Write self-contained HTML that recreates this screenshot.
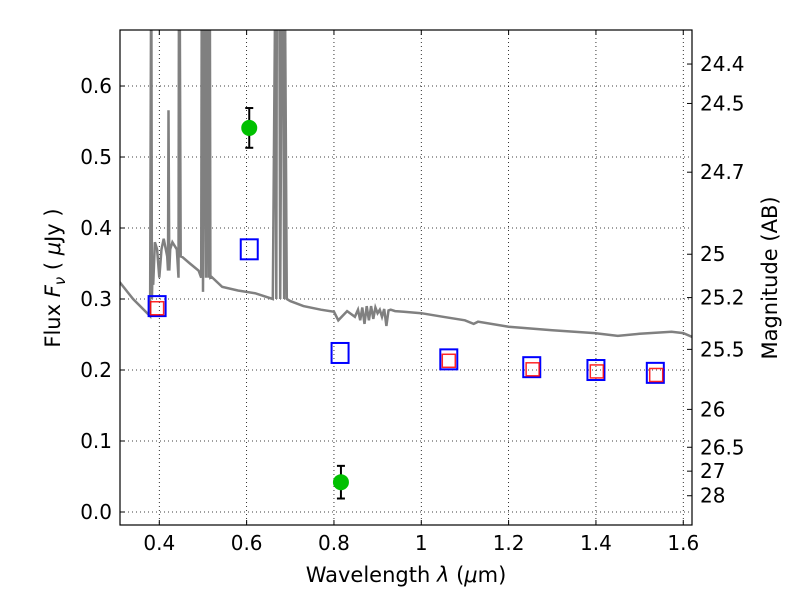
<!DOCTYPE html>
<html><head><meta charset="utf-8">
<style>
body{margin:0;background:#fff;}
svg text{font-family:"DejaVu Sans","Liberation Sans",sans-serif;font-size:20px;fill:#000;}
</style></head>
<body>
<svg id="chart" width="800" height="600" xmlns="http://www.w3.org/2000/svg">
<rect width="800" height="600" fill="#fff"/>
<g id="grid"></g>
<g id="marks"></g>
<rect x="120" y="30" width="572" height="495" fill="none" stroke="#000" stroke-width="1.2"/>
<g id="axes"></g>
<text x="406" y="582" text-anchor="middle" style="font-size:21px">Wavelength  <tspan font-style="italic">λ</tspan> (<tspan font-style="italic">μ</tspan>m)</text>
<text transform="translate(60,278) rotate(-90)" text-anchor="middle" style="font-size:21px">Flux  <tspan font-style="italic">F<tspan font-size="15" dy="5">ν</tspan></tspan><tspan dy="-5">  ( </tspan><tspan font-style="italic">μ</tspan>Jy )</text>
<text transform="translate(777,278) rotate(-90)" text-anchor="middle" style="font-size:21px">Magnitude (AB)</text>
</svg>
<script>
const xTicks=[0.4,0.6,0.8,1.0,1.2,1.4,1.6];
const xTickLabels=["0.4","0.6","0.8","1","1.2","1.4","1.6"];
const yTicks=[0.0,0.1,0.2,0.3,0.4,0.5,0.6];
const yTickLabels=["0.0","0.1","0.2","0.3","0.4","0.5","0.6"];
const magTicks=[24.4,24.5,24.7,25,25.2,25.5,26,26.5,27,28];
const specLam=[0.30,0.34,0.379,0.381,0.382,0.383,0.385,0.386,0.39,0.395,0.40,0.405,0.41,0.418,0.420,0.421,0.423,0.425,0.43,0.44,0.444,0.445,0.447,0.449,0.453,0.47,0.49,0.496,0.497,0.499,0.500,0.503,0.505,0.507,0.509,0.511,0.513,0.516,0.517,0.52,0.544,0.58,0.62,0.66,0.665,0.666,0.668,0.669,0.675,0.677,0.680,0.684,0.686,0.688,0.692,0.70,0.73,0.77,0.80,0.81,0.83,0.848,0.855,0.86,0.865,0.87,0.875,0.88,0.885,0.89,0.895,0.90,0.905,0.91,0.915,0.92,0.925,0.93,0.94,0.96,1.0,1.05,1.10,1.12,1.13,1.2,1.3,1.397,1.45,1.5,1.573,1.6,1.623];
const specFlux=[0.331,0.300,0.276,0.70,0.70,0.30,0.35,0.32,0.38,0.37,0.33,0.37,0.385,0.36,0.34,0.566,0.34,0.37,0.38,0.37,0.33,0.70,0.70,0.36,0.359,0.35,0.34,0.33,0.70,0.70,0.31,0.70,0.70,0.33,0.70,0.70,0.33,0.70,0.33,0.331,0.317,0.312,0.308,0.30,0.70,0.70,0.30,0.70,0.70,0.30,0.70,0.70,0.30,0.70,0.30,0.297,0.29,0.285,0.282,0.27,0.283,0.275,0.285,0.27,0.288,0.265,0.29,0.27,0.29,0.272,0.288,0.28,0.285,0.275,0.286,0.262,0.284,0.285,0.283,0.282,0.280,0.275,0.27,0.265,0.268,0.261,0.256,0.252,0.248,0.251,0.254,0.252,0.246];
const photLam=[0.606,0.816];
const photFlux=[0.541,0.042];
const photErr=[0.028,0.023];
const modelLam=[0.395,0.606,0.814,1.063,1.253,1.40,1.536];
const modelFlux=[0.290,0.370,0.224,0.215,0.204,0.200,0.196];
const fitLam=[0.395,1.063,1.255,1.402,1.538];
const fitFlux=[0.287,0.213,0.201,0.198,0.193];

const X0=120,X1=692,Y0=30,Y1=525,xmin=0.31,xmax=1.62,ymin=-0.0183,ymax=0.6789;
const sx=v=>X0+(v-xmin)/(xmax-xmin)*(X1-X0);
const sy=v=>Y1-(v-ymin)/(ymax-ymin)*(Y1-Y0);
const NS="http://www.w3.org/2000/svg";
function mk(tag,parent,attrs){const e=document.createElementNS(NS,tag);for(const k in attrs)e.setAttribute(k,attrs[k]);parent.appendChild(e);return e;}
const grid=document.getElementById('grid'),marks=document.getElementById('marks'),axes=document.getElementById('axes');
const clip=mk('clipPath',document.getElementById('chart'),{id:'pc'});mk('rect',clip,{x:X0,y:Y0,width:X1-X0,height:Y1-Y0});
xTicks.forEach((t,i)=>{const x=sx(t);
 let g=mk('line',grid,{x1:x,x2:x,y1:Y0,y2:Y1,stroke:'#000','stroke-dasharray':'1,3','stroke-width':0.8});
 
 mk('line',axes,{x1:x,x2:x,y1:Y1,y2:Y1-5,stroke:'#000'});mk('line',axes,{x1:x,x2:x,y1:Y0,y2:Y0+5,stroke:'#000'});
 let l=mk('text',axes,{x:x,y:Y1+25,'text-anchor':'middle'});l.textContent=xTickLabels[i];
 });
yTicks.forEach((t,i)=>{const y=sy(t);
 let g=mk('line',grid,{x1:X0,x2:X1,y1:y,y2:y,stroke:'#000','stroke-dasharray':'1,3','stroke-width':0.8});
 
 mk('line',axes,{x1:X0,x2:X0+5,y1:y,y2:y,stroke:'#000'});
 let l=mk('text',axes,{x:X0-8,y:y+7,'text-anchor':'end'});l.textContent=yTickLabels[i];
 });
magTicks.forEach(m=>{const y=sy(Math.pow(10,(23.9-m)/2.5));
 mk('line',axes,{x1:X1,x2:X1-5,y1:y,y2:y,stroke:'#000'});
 let l=mk('text',axes,{x:X1+8,y:y+7});l.textContent=String(m);
 });
let d=specLam.map((v,i)=>(i?'L':'M')+sx(v).toFixed(1)+','+sy(specFlux[i]).toFixed(1)).join('');
const sp=mk('path',marks,{d:d,fill:'none',stroke:'#808080','stroke-width':2.5,'clip-path':'url(#pc)'});

modelLam.forEach((v,i)=>{const r=mk('rect',marks,{x:sx(v)-8.5,y:sy(modelFlux[i])-10,width:17,height:20,fill:'none',stroke:'#0000ff','stroke-width':2});
 });
fitLam.forEach((v,i)=>{const r=mk('rect',marks,{x:sx(v)-6.5,y:sy(fitFlux[i])-6.5,width:13,height:13,fill:'none',stroke:'#ff0000','stroke-width':1.5,'stroke-opacity':0.85});
 });
photLam.forEach((v,i)=>{const x=sx(v),yt=sy(photFlux[i]+photErr[i]),yb=sy(photFlux[i]-photErr[i]);
 const g=mk('g',marks,{});
 mk('line',g,{x1:x,x2:x,y1:yt,y2:yb,stroke:'#000','stroke-width':2});
 mk('line',g,{x1:x-4,x2:x+4,y1:yt,y2:yt,stroke:'#000','stroke-width':2});
 mk('line',g,{x1:x-4,x2:x+4,y1:yb,y2:yb,stroke:'#000','stroke-width':2});
 const c=mk('circle',marks,{cx:x,cy:sy(photFlux[i]),r:8,fill:'#00c000'});
 });
</script>
</body></html>
